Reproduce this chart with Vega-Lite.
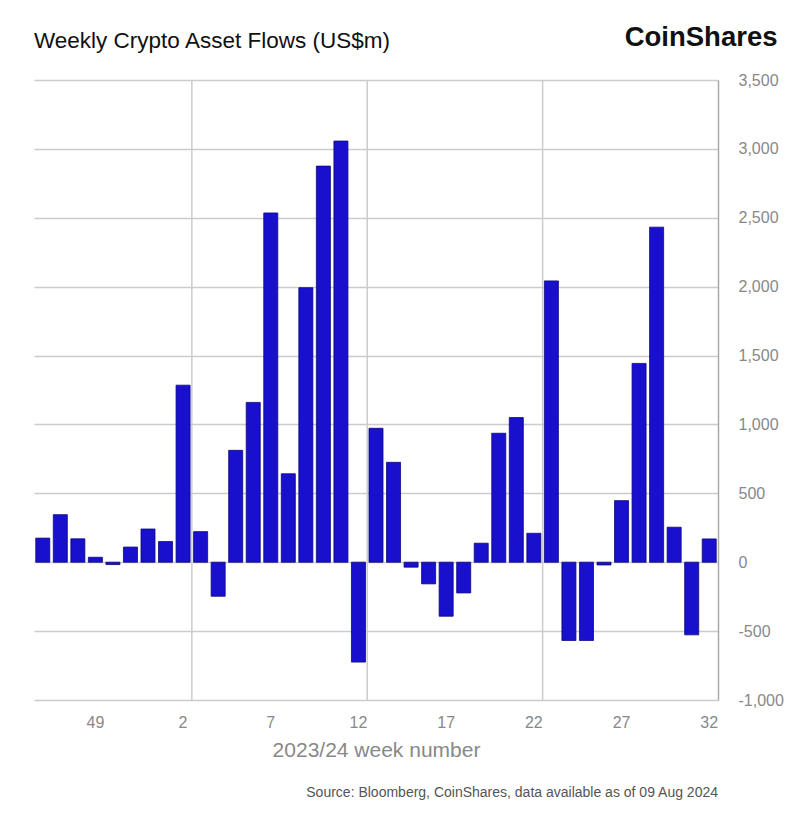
{
  "$schema": "https://vega.github.io/schema/vega-lite/v6.json",
  "background": "white",
  "padding": {"left": 34, "top": 23, "right": 5, "bottom": 0},
  "autosize": {"type": "pad"},
  "config": {"view": {"stroke": null}, "concat": {"spacing": 0}},
  "title": {
    "text": "Weekly Crypto Asset Flows (US$m)",
    "anchor": "start",
    "font": "Liberation Sans",
    "fontSize": 22.5,
    "fontWeight": "normal",
    "color": "#111111",
    "offset": 10,
    "dy": 39
  },
  "vconcat": [
    {
      "width": 684,
      "height": 620,
      "title": {
        "text": "Source: Bloomberg, CoinShares, data available as of 09 Aug 2024",
        "orient": "bottom",
        "anchor": "end",
        "frame": "group",
        "font": "Liberation Sans",
        "fontSize": 14,
        "fontWeight": "normal",
        "color": "#555555",
        "offset": 26
      },
      "data": {
        "values": [
          {"week": "46", "flow": 175},
          {"week": "47", "flow": 345},
          {"week": "48", "flow": 170},
          {"week": "49", "flow": 36},
          {"week": "50", "flow": -17},
          {"week": "51", "flow": 110},
          {"week": "52", "flow": 241},
          {"week": "1", "flow": 150},
          {"week": "2", "flow": 1285},
          {"week": "3", "flow": 222},
          {"week": "4", "flow": -247},
          {"week": "5", "flow": 812},
          {"week": "6", "flow": 1160},
          {"week": "7", "flow": 2535},
          {"week": "8", "flow": 642},
          {"week": "9", "flow": 1993},
          {"week": "10", "flow": 2875},
          {"week": "11", "flow": 3057},
          {"week": "12", "flow": -725},
          {"week": "13", "flow": 972},
          {"week": "14", "flow": 725},
          {"week": "15", "flow": -36},
          {"week": "16", "flow": -157},
          {"week": "17", "flow": -392},
          {"week": "18", "flow": -223},
          {"week": "19", "flow": 138},
          {"week": "20", "flow": 936},
          {"week": "21", "flow": 1050},
          {"week": "22", "flow": 210},
          {"week": "23", "flow": 2042},
          {"week": "24", "flow": -568},
          {"week": "25", "flow": -568},
          {"week": "26", "flow": -20},
          {"week": "27", "flow": 447},
          {"week": "28", "flow": 1443},
          {"week": "29", "flow": 2432},
          {"week": "30", "flow": 254},
          {"week": "31", "flow": -527},
          {"week": "32", "flow": 169}
        ]
      },
      "layer": [
        {
          "mark": {"type": "bar", "color": "#1810cc", "stroke": "#0c0880", "strokeWidth": 0.8},
          "encoding": {
            "x": {
              "field": "week",
              "type": "ordinal",
              "sort": null,
              "scale": {"paddingInner": 0.2, "paddingOuter": 0.1},
              "axis": {
                "values": ["49", "2", "7", "12", "17", "22", "27", "32"],
                "domain": false,
                "ticks": false,
                "grid": false,
                "labelAngle": 0,
                "labelPadding": 14,
                "labelFont": "Liberation Sans",
                "labelFontSize": 16,
                "labelColor": "#888888",
                "title": "2023/24 week number",
                "titleFont": "Liberation Sans",
                "titleFontSize": 21,
                "titleFontWeight": "normal",
                "titleColor": "#888888",
                "titlePadding": 9
              }
            },
            "y": {
              "field": "flow",
              "type": "quantitative",
              "scale": {"domain": [-1000, 3500], "nice": false},
              "axis": {
                "orient": "right",
                "values": [-1000, -500, 0, 500, 1000, 1500, 2000, 2500, 3000, 3500],
                "labelExpr": "replace(format(datum.value, ','), '\u2212', '-')",
                "grid": true,
                "gridColor": "#cccccc",
                "gridWidth": 1.5,
                "domainColor": "#aaaaaa",
                "domainWidth": 1.5,
                "ticks": false,
                "labelPadding": 20,
                "labelAlign": "left",
                "labelFont": "Liberation Sans",
                "labelFontSize": 16,
                "labelColor": "#888888",
                "title": "CoinShares",
                "titleAngle": 0,
                "titleAlign": "right",
                "titleBaseline": "alphabetic",
                "titleX": 59,
                "titleY": -35,
                "titleFont": "Liberation Sans",
                "titleFontSize": 27.5,
                "titleFontWeight": "bold",
                "titleColor": "#111111"
              }
            }
          }
        },
        {
          "transform": [{"filter": "indexof(['2','12','22'], datum.week) >= 0"}],
          "mark": {"type": "rule", "color": "#cccccc", "strokeWidth": 1.5},
          "encoding": {
            "x": {
              "field": "week",
              "type": "ordinal",
              "sort": null,
              "bandPosition": 1.125,
              "scale": {"paddingInner": 0.2, "paddingOuter": 0.1}
            }
          }
        }
      ]
    }
  ]
}
